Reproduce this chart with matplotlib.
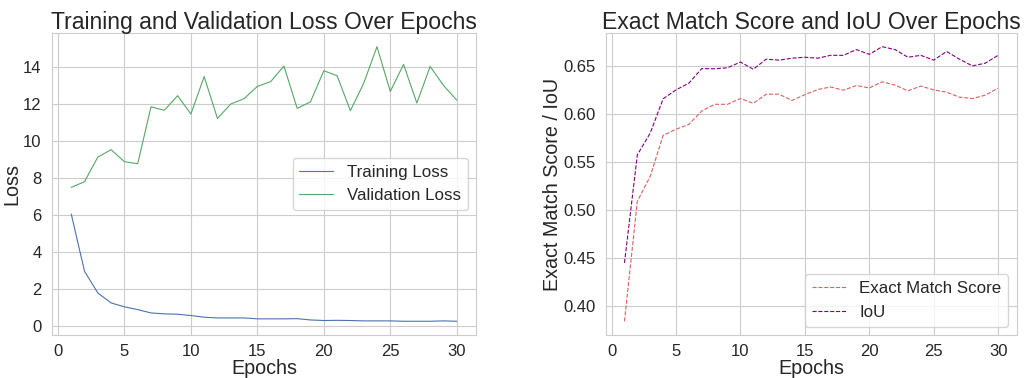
import matplotlib
matplotlib.use("Agg")
import matplotlib.pyplot as plt
import seaborn as sns

sns.set_style("whitegrid")
plt.rcParams["font.family"] = ["Liberation Sans", "DejaVu Sans"]

epochs = list(range(1, 31))

train_loss = [6.07, 2.97, 1.80, 1.26, 1.05, 0.90, 0.72, 0.67, 0.65, 0.58,
              0.49, 0.45, 0.45, 0.45, 0.40, 0.40, 0.40, 0.41, 0.34, 0.31,
              0.32, 0.31, 0.29, 0.29, 0.29, 0.27, 0.27, 0.27, 0.29, 0.27]
val_loss = [7.51, 7.82, 9.15, 9.55, 8.90, 8.79, 11.87, 11.68, 12.47, 11.48,
            13.50, 11.24, 12.02, 12.31, 12.97, 13.23, 14.07, 11.78, 12.14, 13.82,
            13.55, 11.66, 13.14, 15.12, 12.70, 14.16, 12.07, 14.05, 13.03, 12.23]

exact_match = [0.384, 0.509, 0.535, 0.5775, 0.584, 0.589, 0.603, 0.610, 0.610, 0.616,
               0.611, 0.6205, 0.6205, 0.614, 0.620, 0.6254, 0.628, 0.6247, 0.6295, 0.627,
               0.6334, 0.630, 0.624, 0.629, 0.625, 0.6226, 0.6174, 0.616, 0.6195, 0.6268]
iou = [0.4447, 0.5574, 0.580, 0.6157, 0.625, 0.632, 0.6472, 0.647, 0.648, 0.654,
       0.6465, 0.657, 0.656, 0.658, 0.659, 0.658, 0.661, 0.661, 0.667, 0.662,
       0.670, 0.667, 0.659, 0.661, 0.656, 0.665, 0.657, 0.650, 0.6528, 0.661]

fig = plt.figure(figsize=(10.25, 3.78), dpi=100)
ax1 = fig.add_axes([0.0507, 0.1138, 0.4137, 0.799])
ax2 = fig.add_axes([0.591, 0.1138, 0.401, 0.799])

title_fs = 16.6
label_fs = 14.2
tick_fs = 12
legend_fs = 12.2

# Loss curves
ax1.plot(epochs, train_loss, color="#4C72B0", lw=0.8, label="Training Loss")
ax1.plot(epochs, val_loss, color="#55A868", lw=0.8, label="Validation Loss")
ax1.set_title("Training and Validation Loss Over Epochs", fontsize=title_fs, pad=3)
ax1.set_xlabel("Epochs", fontsize=label_fs, labelpad=0)
ax1.set_ylabel("Loss", fontsize=label_fs, labelpad=1)
ax1.set_xticks([0, 5, 10, 15, 20, 25, 30])
ax1.set_yticks([0, 2, 4, 6, 8, 10, 12, 14])
ax1.legend(loc="center right", fontsize=legend_fs, frameon=True)

# Score curves
ax2.plot(epochs, exact_match, color="#DD5F63", lw=0.8, ls="--", label="Exact Match Score")
ax2.plot(epochs, iou, color="purple", lw=0.8, ls="--", label="IoU")
ax2.set_title("Exact Match Score and IoU Over Epochs", fontsize=title_fs, pad=3)
ax2.set_xlabel("Epochs", fontsize=label_fs, labelpad=0)
ax2.set_ylabel("Exact Match Score / IoU", fontsize=label_fs, labelpad=1)
ax2.set_xticks([0, 5, 10, 15, 20, 25, 30])
ax2.set_yticks([0.40, 0.45, 0.50, 0.55, 0.60, 0.65])
ax2.legend(loc="lower right", fontsize=legend_fs, frameon=True)

for ax in (ax1, ax2):
    ax.tick_params(axis="y", labelsize=tick_fs, pad=4)
    ax.tick_params(axis="x", labelsize=tick_fs, pad=3)

fig.savefig("out.png", dpi=100)
